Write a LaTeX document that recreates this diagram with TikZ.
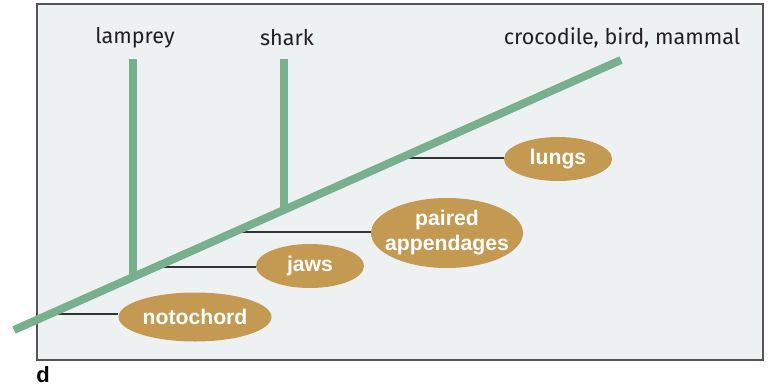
\documentclass[tikz,border=0pt]{standalone}
\usepackage{fontspec}
\setmainfont{Fira Sans}
\newfontfamily\ellfont{Liberation Sans}
\usetikzlibrary{shapes.geometric}
\definecolor{bgc}{HTML}{EDF1F2}
\definecolor{greenc}{HTML}{78B08E}
\definecolor{ochre}{HTML}{C49A52}
\definecolor{framec}{HTML}{555555}
\definecolor{txtc}{HTML}{231F20}
\tikzset{
  branch/.style={greenc, line width=8pt},
  conn/.style={draw=black!80, line width=1.2pt},
  ell/.style={ellipse, fill=ochre, inner sep=0pt},
  etext/.style={font=\ellfont\bfseries\fontsize{21.2}{25}\selectfont, text=white, align=center, inner sep=0pt},
  taxon/.style={font=\fontsize{21.6}{24}\selectfont, text=txtc, inner sep=0pt}
}
\begin{document}
\begin{tikzpicture}[x=1pt,y=-1pt]
\useasboundingbox (0,0) rectangle (769,391);
\fill[white] (0,0) rectangle (769,391);
\draw[framec, fill=bgc, line width=1.1pt] (37,4) rectangle (763,360);

% coordinates on the main line
\coordinate (root) at (14,330);
\coordinate (tip) at (621,60);
\coordinate (lj) at (133,277.1);
\coordinate (sj) at (284,209.9);
\coordinate (ltop) at (133,59);
\coordinate (stop) at (284,59);
\coordinate (c1) at (50,314);
\coordinate (c2) at (156,267);
\coordinate (c3) at (234,232);
\coordinate (c4) at (401,158);

% character ellipses
\node[ell, minimum width=153pt, minimum height=49pt] (noto) at (195,317) {};
\node[etext] at (noto) {notochord};
\node[ell, minimum width=108pt, minimum height=44pt] (jaws) at (310,266) {};
\node[etext] at (jaws) {jaws};
\node[ell, minimum width=152pt, minimum height=70pt] (pa) at (447,233) {};
\node[etext] at (pa) {paired\\appendages};
\node[ell, minimum width=108pt, minimum height=44pt] (lungs) at (558,159) {};
\node[etext] at (lungs) {lungs};

% connectors
\draw[conn] (c1) -- (c1 -| noto.west);
\draw[conn] (c2) -- (c2 -| jaws.west);
\draw[conn] (c3) -- (c3 -| pa.west);
\draw[conn] (c4) -- (c4 -| lungs.west);

% tree
\draw[branch] (ltop) -- (lj);
\draw[branch] (stop) -- (sj);
\draw[branch] (root) -- (tip);

% taxa
\node[taxon] (lam) at (135,38) {lamprey};
\node[taxon] (sha) at (287,38) {shark};
\node[taxon] (cbm) at (622,38) {crocodile, bird, mammal};

\node[font=\ellfont\bfseries\fontsize{22}{26}\selectfont, inner sep=0pt] (d) at (43,375) {d};
\end{tikzpicture}
\end{document}
